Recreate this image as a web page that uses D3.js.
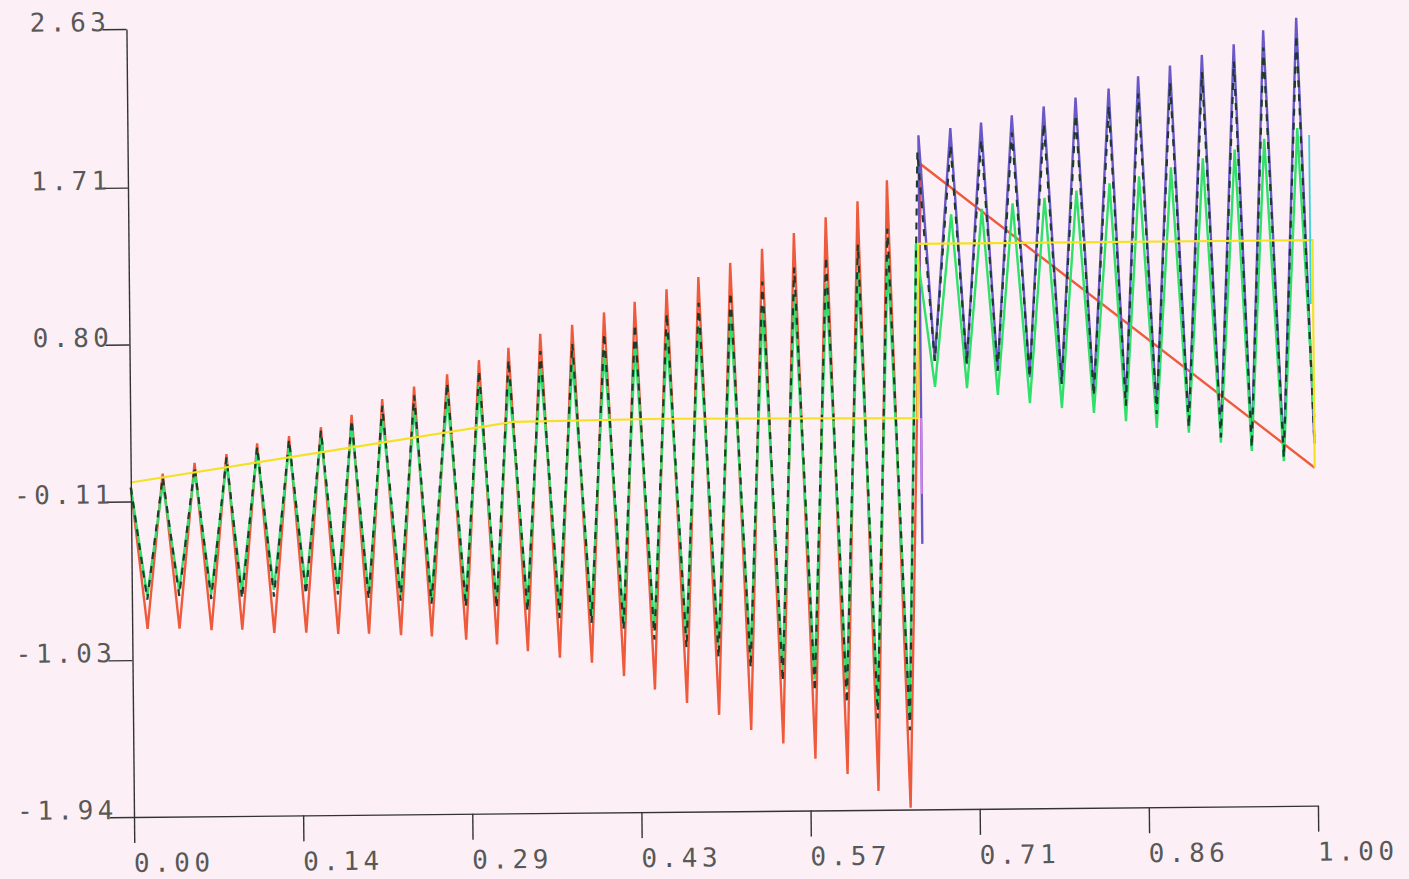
<!DOCTYPE html>
<html><head><meta charset="utf-8">
<script src="https://cdn.jsdelivr.net/npm/d3@7"></script>
<style>html,body{margin:0;padding:0;background:#fcf0f6;}svg{display:block}</style>
</head><body><svg id="c" width="1409" height="879"></svg>
<script>
// ---------- data ----------
const xTickValues = [0, 0.142857, 0.285714, 0.428571, 0.571429, 0.714286, 0.857143, 1];
const xTickLabels = ["0.00","0.14","0.29","0.43","0.57","0.71","0.86","1.00"];
const yTickValues = [2.63, 1.71, 0.80, -0.11, -1.03, -1.94];
const yTickLabels = ["2.63","1.71","0.80","-0.11","-1.03","-1.94"];

// first regime: start, then alternating trough/peak turning points
const xPart1 = [0.000, 0.013, 0.027, 0.040, 0.054, 0.067, 0.081, 0.093, 0.107, 0.120,
  0.134, 0.147, 0.161, 0.174, 0.187, 0.200, 0.213, 0.227, 0.240, 0.253,
  0.268, 0.282, 0.295, 0.308, 0.320, 0.334, 0.347, 0.361, 0.374, 0.388,
  0.401, 0.415, 0.427, 0.441, 0.454, 0.468, 0.481, 0.495, 0.508, 0.522,
  0.535, 0.549, 0.562, 0.576, 0.589, 0.603, 0.616, 0.629, 0.641, 0.656];
const redPart1 = [-0.03, -0.85, 0.05, -0.85, 0.11, -0.86, 0.16, -0.86, 0.22, -0.88,
  0.26, -0.88, 0.31, -0.89, 0.38, -0.89, 0.47, -0.90, 0.54, -0.91,
  0.61, -0.93, 0.69, -0.96, 0.76, -1.00, 0.84, -1.04, 0.89, -1.07,
  0.96, -1.15, 1.02, -1.23, 1.09, -1.31, 1.16, -1.38, 1.24, -1.47,
  1.32, -1.55, 1.41, -1.64, 1.50, -1.73, 1.59, -1.83, 1.71, -1.93];
const greenPart1 = [-0.03, -0.66, -0.01, -0.63, 0.06, -0.65, 0.11, -0.64, 0.17, -0.63,
  0.20, -0.62, 0.25, -0.63, 0.31, -0.66, 0.37, -0.67, 0.42, -0.69,
  0.48, -0.70, 0.54, -0.72, 0.59, -0.73, 0.66, -0.77, 0.69, -0.80,
  0.74, -0.84, 0.78, -0.89, 0.83, -0.93, 0.88, -0.99, 0.94, -1.05,
  0.98, -1.13, 1.05, -1.18, 1.12, -1.24, 1.18, -1.33, 1.26, -1.40];
const darkPart1 = [-0.03, -0.68, 0.03, -0.66, 0.09, -0.68, 0.14, -0.68, 0.20, -0.67,
  0.24, -0.66, 0.29, -0.66, 0.35, -0.69, 0.43, -0.70, 0.49, -0.72,
  0.56, -0.74, 0.63, -0.75, 0.69, -0.77, 0.74, -0.81, 0.78, -0.84,
  0.84, -0.88, 0.89, -0.94, 0.95, -0.99, 1.01, -1.05, 1.07, -1.11,
  1.13, -1.19, 1.21, -1.25, 1.27, -1.32, 1.34, -1.41, 1.43, -1.48];

// jump points between the regimes
const redLineX = [0.670, 1.000];
const redLineY = [1.80, 0.02];
const blueJumpX = [0.668, 0.668];
const blueJumpY = [-0.40, 1.97];
const greenJumpX = [0.665];
const greenJumpY = [1.34];
const darkJumpX = [0.667];
const darkJumpY = [1.87];

// second regime: alternating trough/peak, then end point
const xPart2 = [0.680, 0.695, 0.707, 0.721, 0.733, 0.747, 0.760, 0.774, 0.787, 0.801,
  0.814, 0.829, 0.841, 0.854, 0.867, 0.881, 0.894, 0.908, 0.921, 0.935,
  0.947, 0.960, 0.974, 0.988, 1.000];
const bluePart2 = [0.66, 2.01, 0.64, 2.04, 0.60, 2.08, 0.56, 2.13, 0.52, 2.18,
  0.45, 2.23, 0.39, 2.30, 0.34, 2.36, 0.26, 2.42, 0.20, 2.48,
  0.14, 2.56, 0.08, 2.63, 0.16];
const greenPart2 = [0.51, 1.51, 0.50, 1.54, 0.46, 1.57, 0.41, 1.60, 0.38, 1.64,
  0.35, 1.68, 0.30, 1.72, 0.26, 1.77, 0.23, 1.82, 0.17, 1.87,
  0.12, 1.93, 0.06, 1.99, 0.31];
const darkPart2 = [0.66, 1.91, 0.64, 1.94, 0.60, 1.98, 0.56, 2.03, 0.52, 2.08,
  0.45, 2.13, 0.39, 2.20, 0.34, 2.26, 0.26, 2.32, 0.20, 2.38,
  0.14, 2.46, 0.08, 2.53, 0.16];

const yellowX = [0.000, 0.323, 0.450, 0.665, 0.667, 1.000, 1.000];
const yellowY = [0.00, 0.33, 0.34, 0.33, 1.34, 1.34, 0.02];
const magentaX = [0.668, 0.668];
const magentaY = [0.33, -0.11];
const cyanX = [0.998, 0.998];
const cyanY = [1.95, 0.97];

// ---------- drawing ----------
const W = 1409, H = 879;
const svg = d3.select("#c");
svg.append("rect").attr("width", W).attr("height", H).attr("fill", "#fcf0f6");

const x = d3.scaleLinear().domain([0, 1]).range([134, 1318]);
const y = d3.scaleLinear().domain([-1.94, 2.63]).range([817, 29]);
const g = svg.append("g").attr("transform", "rotate(-0.55,134,817)");

const zip = (xs, ys) => xs.map((v, i) => [v, ys[i]]);
const line = d3.line().x(d => x(d[0])).y(d => y(d[1]));

const red = zip(xPart1, redPart1).concat(zip(redLineX, redLineY));
const green = zip(xPart1, greenPart1).concat(zip(greenJumpX, greenJumpY), zip(xPart2, greenPart2));
const dark = zip(xPart1, darkPart1).concat(zip(darkJumpX, darkJumpY), zip(xPart2, darkPart2));
const blue = zip(blueJumpX, blueJumpY).concat(zip(xPart2, bluePart2));

const series = [
  {d: red, c: "#ee5a3c", w: 2.4},
  {d: blue, c: "#6a58c8", w: 2.4},
  {d: green, c: "#2fe06a", w: 2.4},
  {d: dark, c: "#1d3a2c", w: 2.2, dash: "7,7"},
  {d: zip(yellowX, yellowY), c: "#f2e226", w: 2.2},
  {d: zip(magentaX, magentaY), c: "#e07ae6", w: 2},
  {d: zip(cyanX, cyanY), c: "#3ed0d8", w: 1.8}
];
g.selectAll("path.s").data(series).join("path")
  .attr("class", "s")
  .attr("d", s => line(s.d))
  .attr("fill", "none")
  .attr("stroke", s => s.c)
  .attr("stroke-width", s => s.w)
  .attr("stroke-linejoin", "miter")
  .attr("stroke-dasharray", s => s.dash || null);

// axes
const fontAttrs = sel => sel.attr("font-family", "'DejaVu Sans Mono', monospace")
  .attr("font-size", 26).attr("color", "#333");

const xa = g.append("g").attr("transform", "translate(0,817)")
  .call(d3.axisBottom(x).tickValues(xTickValues)
    .tickFormat((d, i) => xTickLabels[i]).tickSize(26).tickSizeOuter(0));
fontAttrs(xa);
xa.selectAll("text").attr("y", 55).attr("dy", 0).attr("x", -1)
  .attr("text-anchor", "start").attr("letter-spacing", 4.5).attr("fill", "#585858");

const ya = g.append("g").attr("transform", "translate(134,0)")
  .call(d3.axisLeft(y).tickValues(yTickValues)
    .tickFormat((d, i) => yTickLabels[i]).tickSize(24).tickSizeOuter(0));
fontAttrs(ya);
ya.selectAll("text").attr("x", -16).attr("dy", "0.05em")
  .attr("letter-spacing", 4.5).attr("fill", "#585858");

g.selectAll(".domain, .tick line").attr("stroke-width", 1.4);
</script>
</body></html>
